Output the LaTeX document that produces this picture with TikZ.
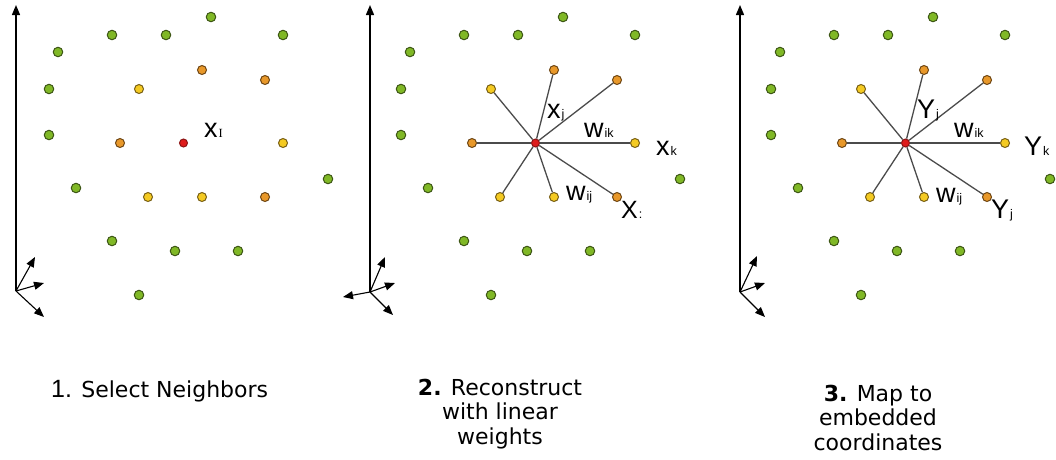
\documentclass[tikz,border=0pt]{standalone}
\usepackage{fontspec}
\setmainfont{DejaVu Sans}
\newfontfamily\lblfont{Liberation Sans}
\newfontfamily\serfont{Liberation Serif}
\usetikzlibrary{arrows.meta}
\definecolor{dotgreen}{RGB}{128,184,38}
\definecolor{gedge}{RGB}{60,85,20}
\definecolor{dotorange}{RGB}{232,152,42}
\definecolor{oedge}{RGB}{110,70,20}
\definecolor{dotyellow}{RGB}{244,202,34}
\definecolor{yedge}{RGB}{120,95,20}
\definecolor{dotred}{RGB}{222,28,28}
\definecolor{redge}{RGB}{140,20,20}
\definecolor{linkgray}{RGB}{75,75,75}
\tikzset{
  pt/.style={circle, inner sep=0pt, line width=1pt},
  gdot/.style={pt, minimum size=9.5pt, fill=dotgreen, draw=gedge},
  odot/.style={pt, minimum size=9pt, fill=dotorange, draw=oedge},
  ydot/.style={pt, minimum size=9pt, fill=dotyellow, draw=yedge},
  rdot/.style={pt, minimum size=8pt, fill=dotred, draw=redge},
  link/.style={draw=linkgray, line width=1.3pt},
  mainaxis/.style={line width=1.4pt, -{Triangle[length=10pt,width=8pt]}},
  smallaxis/.style={line width=1.1pt, -{Triangle[length=10pt,width=8pt]}},
  lbl/.style={font=\lblfont\fontsize{27}{27}\selectfont, inner sep=0pt, anchor=base west},
  captext/.style={font=\fontsize{22}{24.5}\selectfont, align=center, inner sep=0pt, anchor=base}
}
\newcommand{\sbs}[1]{{\fontsize{12.5}{12.5}\selectfont\kern1pt #1}}
\begin{document}
\begin{tikzpicture}[x=1pt,y=-1pt]
\useasboundingbox (0,0) rectangle (1056,459);
\foreach \p/\dx in {a/0,b/352,c/722}{
  \begin{scope}[xshift=\dx pt]
    \node[gdot] (\p g1) at (211,17) {};
    \node[gdot] (\p g2) at (112,35) {};
    \node[gdot] (\p g3) at (166,35) {};
    \node[gdot] (\p g4) at (283,35) {};
    \node[gdot] (\p g5) at (58,52) {};
    \node[gdot] (\p g6) at (49,89) {};
    \node[gdot] (\p g7) at (49,135) {};
    \node[gdot] (\p g8) at (76,188) {};
    \node[gdot] (\p g9) at (328,179) {};
    \node[gdot] (\p g10) at (112,241) {};
    \node[gdot] (\p g11) at (175,251) {};
    \node[gdot] (\p g12) at (238,251) {};
    \node[gdot] (\p g13) at (139,295) {};
    \node[odot] (\p o1) at (202,70) {};
    \node[odot] (\p o2) at (265,80) {};
    \node[odot] (\p o3) at (120,143) {};
    \node[odot] (\p o4) at (265,197) {};
    \node[ydot] (\p y1) at (139,89) {};
    \node[ydot] (\p y2) at (283,143) {};
    \node[ydot] (\p y3) at (148,197) {};
    \node[ydot] (\p y4) at (202,197) {};
    \node[rdot] (\p r) at (183.5,143) {};
  \end{scope}
}
\foreach \p in {b,c}{
  \foreach \n in {o1,o2,o3,o4,y1,y2,y3,y4}{
    \draw[link] (\p r) -- (\p\n);
  }
}
% axes panel 1
\coordinate (a0) at (16,291);
\coordinate (atop) at (16,5);
\coordinate (a1) at (35,257);
\coordinate (a2) at (44,283);
\coordinate (a3) at (44,317);
\draw[mainaxis] (a0) -- (atop);
\draw[smallaxis] (a0) -- (a1);
\draw[smallaxis] (a0) -- (a2);
\draw[smallaxis] (a0) -- (a3);
% axes panel 2
\coordinate (b0) at (370,292);
\coordinate (btop) at (370,5);
\coordinate (b1) at (385,257);
\coordinate (b2) at (395,283);
\coordinate (b3) at (393,315);
\coordinate (b4) at (343,297);
\draw[mainaxis] (b0) -- (btop);
\draw[smallaxis] (b0) -- (b1);
\draw[smallaxis] (b0) -- (b2);
\draw[smallaxis] (b0) -- (b3);
\draw[smallaxis] (b0) -- (b4);
% axes panel 3
\coordinate (c0) at (740,292);
\coordinate (ctop) at (740,5);
\coordinate (c1) at (757,256);
\coordinate (c2) at (765,283);
\coordinate (c3) at (765,317);
\draw[mainaxis] (c0) -- (ctop);
\draw[smallaxis] (c0) -- (c1);
\draw[smallaxis] (c0) -- (c2);
\draw[smallaxis] (c0) -- (c3);
% labels
\node[lbl] (lxi) at (204,137) {x\sbs{\serfont I}};
\node[lbl] (lxj) at (547,118) {x\sbs{j}};
\node[lbl] (lwik) at (584,137) {w\sbs{ik}};
\node[lbl] (lxk) at (656,155) {x\sbs{k}};
\node[lbl] (lwij) at (566,200) {w\sbs{ij}};
\node[lbl,font=\lblfont\fontsize{25}{25}\selectfont] (lxc) at (621,218) {X\sbs{:}};
\node[lbl] (lyj) at (917,118) {Y\sbs{j}};
\node[lbl] (lwik3) at (954,137) {w\sbs{ik}};
\node[lbl] (lyk) at (1024,155) {Y\sbs{k}};
\node[lbl] (lwij3) at (936,202) {w\sbs{ij}};
\node[lbl] (lyj2) at (991,218) {Y\sbs{j}};
% captions
\node[captext, anchor=base west] (cap1) at (51,397) {{\lblfont\fontsize{25}{25}\selectfont 1.} Select Neighbors};
\node[captext] (cap2) at (500,444) {{\bfseries 2.} Reconstruct\\with linear\\weights};
\node[captext] (cap3) at (878,450) {{\bfseries 3.} Map to\\embedded\\coordinates};
\end{tikzpicture}
\end{document}
